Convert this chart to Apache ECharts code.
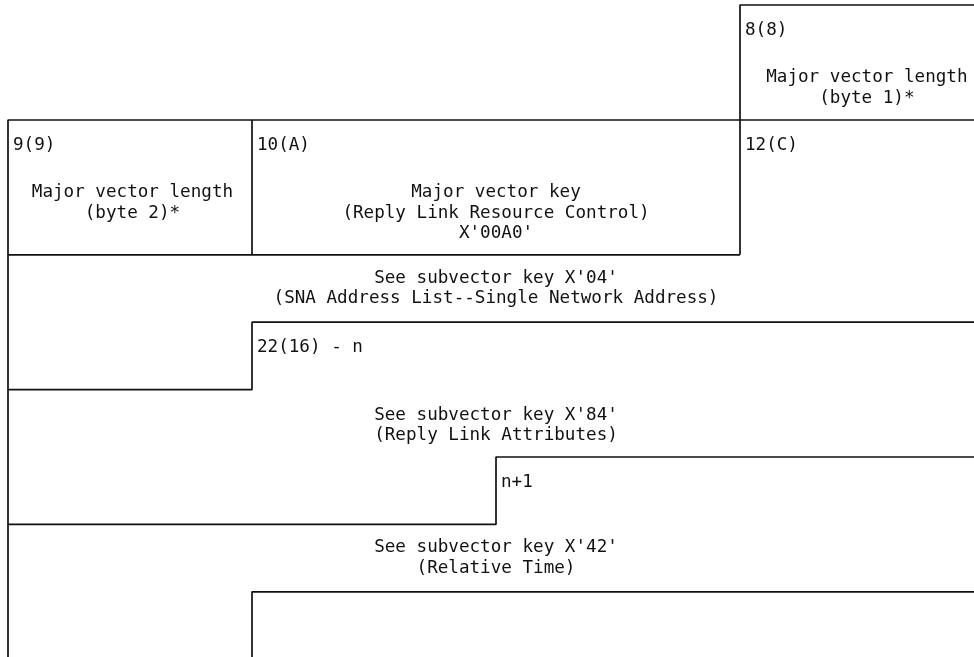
<!DOCTYPE html>
<html>
<head>
<meta charset="utf-8">
<script src="https://cdn.jsdelivr.net/npm/echarts@6/dist/echarts.min.js"></script>
<style>
html,body{margin:0;padding:0;background:#fff;}
#chart{width:974px;height:657px;}
</style>
</head>
<body>
<div id="chart"></div>
<script>
// Diagram coordinates: x = byte column within a 4-byte word, y = half-row units (downwards)
// Outline paths of the record layout boxes
const outlinePaths = [
  [[3, 0], [3, -1.706], [4, -1.706]],
  [[0, 8.2], [0, 0], [4, 0]],
  [[1, 0], [1, 2]],
  [[3, 0], [3, 2]],
  [[0, 2], [3, 2]],
  [[0, 4], [1, 4], [1, 3], [4, 3]],
  [[0, 6], [2, 6], [2, 5], [4, 5]],
  [[1, 8.2], [1, 7], [4, 7]]
];

// Offset tags placed at the top-left corner of each field
const tagTexts = ['8(8)', '9(9)', '10(A)', '12(C)', '22(16) - n', 'n+1'];
const tagCols  = [3, 0, 1, 3, 1, 2];
const tagRows  = [-1.706, 0, 0, 0, 3, 5];

// Field descriptions, centred
const descTexts = [
  'Major vector length\n(byte 1)*',
  'Major vector length\n(byte 2)*',
  'Major vector key\n(Reply Link Resource Control)\nX\'00A0\'',
  'See subvector key X\'04\'\n(SNA Address List--Single Network Address)',
  'See subvector key X\'84\'\n(Reply Link Attributes)',
  'See subvector key X\'42\'\n(Relative Time)'
];
const descCols = [3.52, 0.51, 2, 2, 2, 2];
const descRows = [-0.475, 1.23, 1.38, 2.5, 4.53, 6.5];

const FONT = '"DejaVu Sans Mono", "Liberation Mono", monospace';
const INK = '#111111';

const chart = echarts.init(document.getElementById('chart'), null, {renderer: 'canvas'});

const lineSeries = outlinePaths.map(function (p) {
  return {
    type: 'line',
    data: p,
    symbol: 'none',
    silent: true,
    animation: false,
    lineStyle: {color: INK, width: 1.7},
    clip: false
  };
});

function textSeries(texts, cols, rows, labelOpt) {
  return {
    type: 'scatter',
    symbolSize: 0,
    itemStyle: {color: 'rgba(0,0,0,0)'},
    silent: true,
    animation: false,
    clip: false,
    data: texts.map(function (t, i) { return {name: t, value: [cols[i], rows[i]]}; }),
    label: Object.assign({
      show: true,
      formatter: function (p) { return p.name; },
      fontFamily: FONT,
      fontSize: 17.6,
      color: INK,
      opacity: 1
    }, labelOpt)
  };
}

const tagSeries = textSeries(tagTexts, tagCols, tagRows, {
  position: [5, 25.5], align: 'left', verticalAlign: 'middle'
});
const descSeries = textSeries(descTexts, descCols, descRows, {
  position: 'inside', align: 'center', verticalAlign: 'middle', lineHeight: 20.5
});

chart.setOption({
  backgroundColor: '#ffffff',
  animation: false,
  grid: {left: 8, top: 0, right: 0, bottom: 0, containLabel: false, outerBoundsMode: 'none'},
  xAxis: {
    type: 'value', min: 0, max: 966 / 244,
    show: false, splitLine: {show: false}
  },
  yAxis: {
    type: 'value', min: -120 / 67.4, max: 537 / 67.4, inverse: true,
    show: false, splitLine: {show: false}
  },
  series: lineSeries.concat([tagSeries, descSeries])
});
</script>
</body>
</html>
